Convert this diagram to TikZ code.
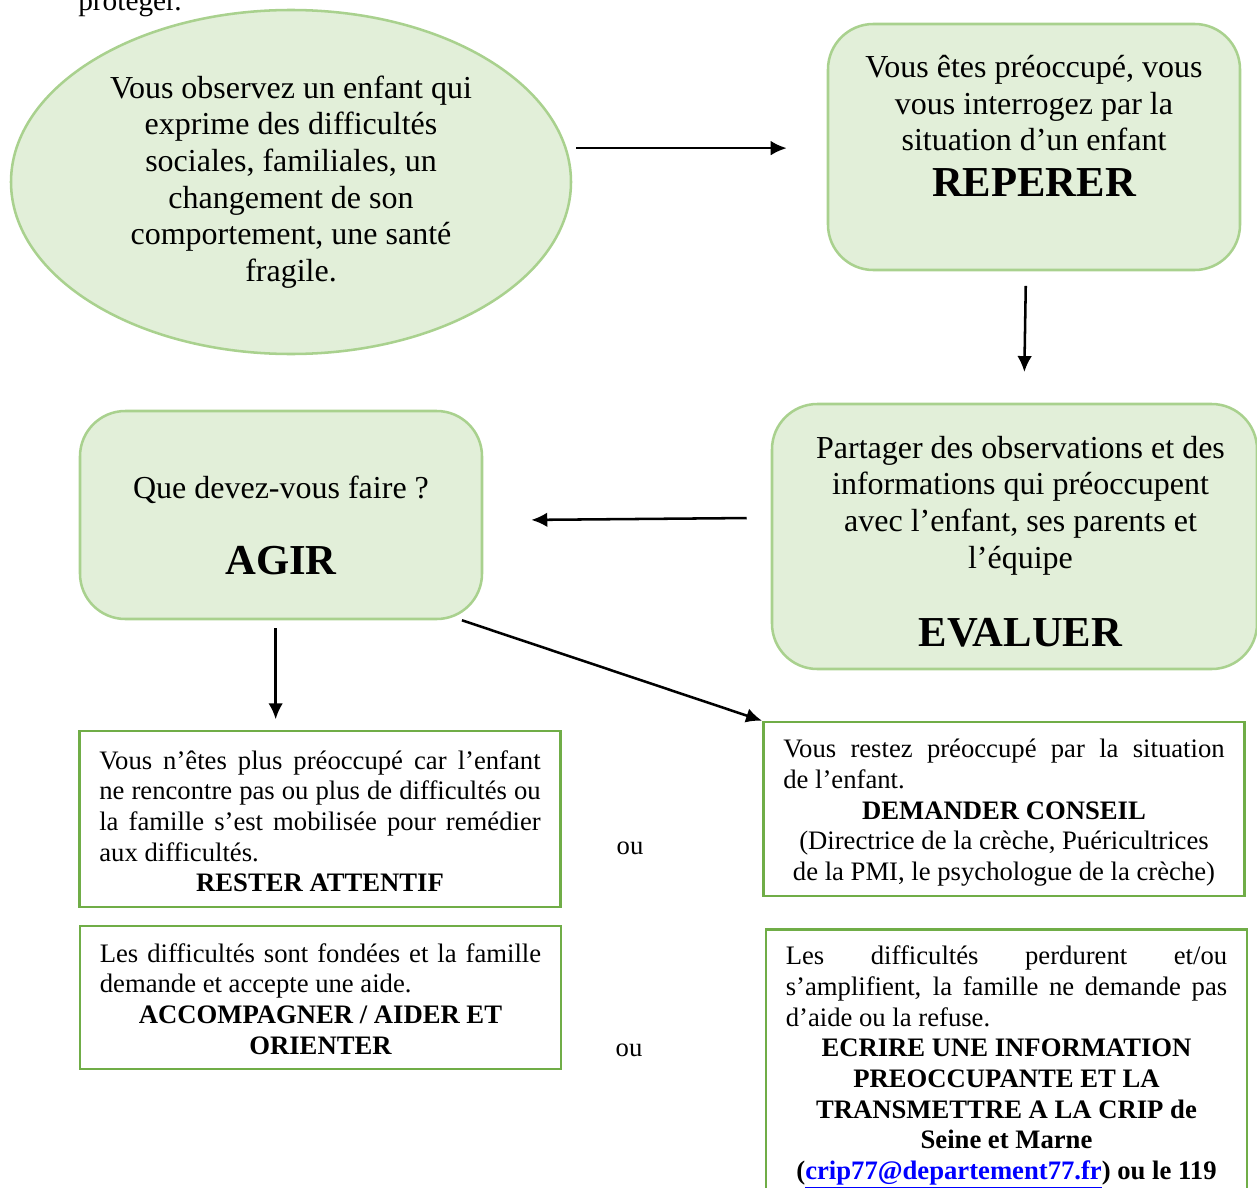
\documentclass[tikz,border=0pt]{standalone}
\usepackage{fontspec}
\setmainfont{Liberation Serif}
\usetikzlibrary{shapes.geometric,arrows.meta}

\definecolor{softfill}{HTML}{E2EFD9}
\definecolor{softline}{HTML}{A9D18E}
\definecolor{boxline}{HTML}{70AD47}
\definecolor{linkblue}{HTML}{0000FF}

\newcommand{\bigtxt}{\fontsize{24}{27.5}\selectfont}
\newcommand{\boxtxt}{\fontsize{20}{23}\selectfont}
\newcommand{\titletxt}{\fontsize{32}{36.8}\selectfont\bfseries}

\begin{document}
\begin{tikzpicture}[x=0.75pt,y=-0.75pt,
  soft/.style={draw=softline, fill=softfill, line width=1.9pt},
  softbox/.style={soft, shape=rectangle, rounded corners=34pt, inner sep=0pt},
  plainbox/.style={draw=boxline, line width=1.9pt, inner xsep=15pt, inner ysep=11pt,
    text width=331pt, align=justify, font=\boxtxt},
  flow/.style={-{Latex[length=12pt,width=11pt]}, line width=1.9pt}]

%%% page
\path[use as bounding box] (0,0) rectangle (1257,1188);
\clip (0,0) rectangle (1257,1188);

\node[anchor=base west, inner sep=0pt, font=\fontsize{22}{25}\selectfont] (prev) at (78,11) {protéger.};

%%% green shapes
\node[soft, shape=ellipse, minimum width=420pt, minimum height=258pt, inner sep=0pt,
  align=center, font=\bigtxt] (obs) at (291,182)
  {Vous observez un enfant qui\\ exprime des difficultés\\ sociales, familiales, un\\
   changement de son\\ comportement, une santé\\ fragile.};

\node[softbox] (rep) at (1034,147)
  {\parbox[c][184.5pt][t]{309pt}{\centering\bigtxt\vspace*{23.5pt}
   Vous êtes préoccupé, vous\\ vous interrogez par la\\ situation d’un enfant\par
   \vspace{-2.5pt}\titletxt REPERER\par}};

\node[softbox] (eval) at (1014.5,536.5)
  {\parbox[c][198.75pt][t]{363.75pt}{\centering\leftskip=9pt plus 1fil\bigtxt\vspace*{24pt}
   Partager des observations et des\\ informations qui préoccupent\\
   avec l’enfant, ses parents et\\ l’équipe\par\vspace{22pt}
   \titletxt EVALUER\par}};

\node[softbox] (agir) at (281,515)
  {\parbox[c][156pt][t]{301.5pt}{\centering\bigtxt\vspace*{49pt}
   Que devez-vous faire~?\par\vspace{20pt}
   \titletxt AGIR\par}};

%%% outcome boxes
\node[plainbox, minimum height=130.5pt] (attentif) at (320,819)
  {\rule{0pt}{17.5pt}Vous n’êtes plus préoccupé car l’enfant\linebreak
   ne rencontre pas ou plus de difficultés ou\linebreak
   la famille s’est mobilisée pour remédier\linebreak
   aux difficultés.\par
   {\centering\bfseries RESTER ATTENTIF\par}};

\node[plainbox, minimum height=107.25pt] (aider) at (320.5,997.5)
  {\rule{0pt}{16pt}Les difficultés sont fondées et la famille\linebreak
   demande et accepte une aide.\par
   {\centering\bfseries ACCOMPAGNER / AIDER ET\\ ORIENTER\par}};

\node[plainbox, inner ysep=6.9pt, minimum height=130.5pt] (conseil) at (1004,809)
  {\rule{0pt}{19.7pt}Vous restez préoccupé par la situation\linebreak
   de l’enfant.\par
   {\centering\textbf{DEMANDER CONSEIL}\\
   (Directrice de la crèche, Puéricultrices\\
   de la PMI, le psychologue de la crèche)\par}};

\node[plainbox, anchor=north] (crip) at (1006.5,928)
  {\rule{0pt}{15.7pt}Les difficultés perdurent et/ou\linebreak
   s’amplifient, la famille ne demande pas\linebreak
   d’aide ou la refuse.\par
   {\centering\bfseries ECRIRE UNE INFORMATION\\ PREOCCUPANTE ET LA\\
   TRANSMETTRE A LA CRIP de\\ Seine et Marne\\
   (\textcolor{linkblue}{\underline{crip77@departement77.fr}}) ou le 119\par}};

\node[font=\boxtxt] (or1) at (630,848) {ou};
\node[font=\boxtxt] (or2) at (629,1050) {ou};

%%% arrows
\draw[flow, shorten <=7pt, shorten >=30pt] (obs.7) -- (obs.7 -| rep.west);
\draw[flow, shorten <=11pt, shorten >=23pt] ([xshift=-6pt]rep.south) -- ([xshift=7pt]eval.north);
\draw[flow, shorten <=18pt, shorten >=36pt] ([yshift=14pt]eval.west) -- ([yshift=-4pt]agir.east);
\draw[flow, shorten <=6pt, shorten >=8pt] ([xshift=-4pt]agir.south) -- ([xshift=-4pt]agir.south |- attentif.north);
\draw[flow] ([xshift=-16pt]agir.south east) -- (conseil.north west);

\end{tikzpicture}
\end{document}
